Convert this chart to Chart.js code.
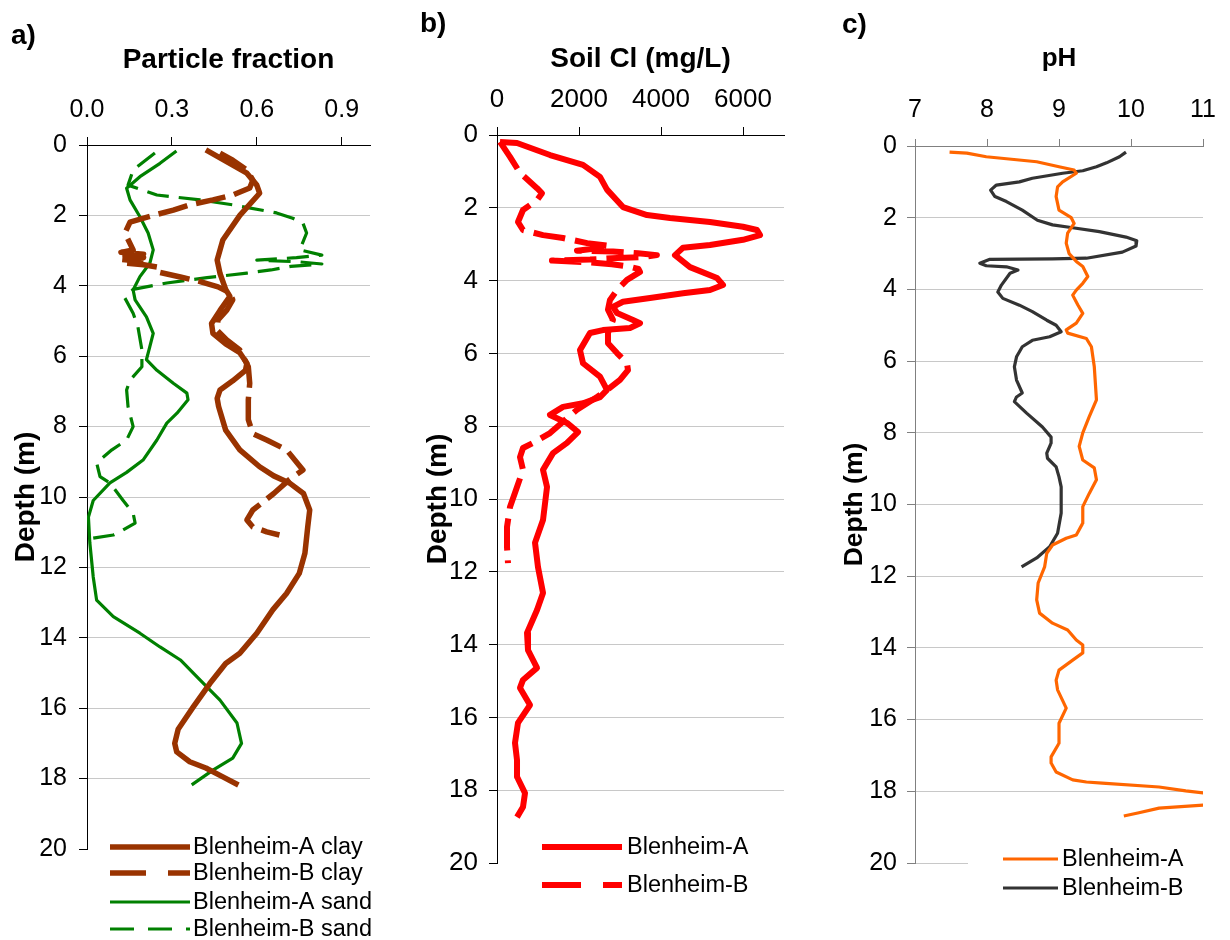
<!DOCTYPE html>
<html><head><meta charset="utf-8">
<script src="https://cdn.jsdelivr.net/npm/chart.js@4.4.1/dist/chart.umd.min.js"></script>
<style>
html,body{margin:0;padding:0;background:#fff;}
#wrap{position:relative;width:1230px;height:940px;overflow:hidden;}
.pane{position:absolute;top:0;width:410px;height:940px;}
</style></head><body>
<div id="wrap">
<div class="pane" style="left:0px"><canvas id="ca" width="410" height="940"></canvas></div>
<div class="pane" style="left:410px"><canvas id="cb" width="410" height="940"></canvas></div>
<div class="pane" style="left:820px"><canvas id="cc" width="410" height="940"></canvas></div>
</div>
<script>
// ---------- DATA ----------
const depthTicks = [0,2,4,6,8,10,12,14,16,18,20];
const fracTicks = [0, 0.3, 0.6, 0.9];
const clTicks = [0, 2000, 4000, 6000];
const phTicks = [7, 8, 9, 10, 11];

// Panel a: particle fraction
const clayA_depth = [0.14,0.8,1.14,1.37,2.0,2.7,3.27,3.65,4.1,4.3,
  4.7,5.07,5.35,5.65,5.9,6.2,6.4,6.7,6.96,7.2,
  7.43,8.1,8.66,9.14,9.4,9.6,9.9,10.37,10.85,11.6,
  12.17,12.74,13.2,13.87,14.44,14.73,15.3,15.97,16.6,17.0,
  17.24,17.52,17.7,17.95,18.18];
const clayA_frac = [0.42,0.565,0.60,0.61,0.54,0.48,0.46,0.47,0.49,0.505,
  0.47,0.44,0.445,0.49,0.54,0.565,0.56,0.515,0.47,0.46,
  0.465,0.49,0.54,0.61,0.66,0.715,0.765,0.787,0.78,0.77,
  0.75,0.705,0.657,0.60,0.54,0.49,0.434,0.375,0.322,0.31,
  0.317,0.363,0.42,0.48,0.535];

const clayB_depth = [0.23,0.43,0.71,1.0,1.22,1.42,1.56,1.7,1.85,2.0,
  2.19,2.5,2.98,3.05,3.1,3.15,3.2,3.25,3.3,3.35,
  3.4,3.47,3.6,3.75,3.88,4.03,4.2,4.4,4.69,4.97,
  5.26,5.54,5.82,6.3,6.77,7.24,7.8,8.2,8.38,8.66,
  9.23,9.5,9.9,10.37,10.65,10.85,10.99,11.08];
const clayB_frac = [0.47,0.515,0.565,0.586,0.575,0.515,0.445,0.363,0.305,0.234,
  0.152,0.134,0.163,0.12,0.2,0.12,0.2,0.12,0.19,0.13,
  0.2,0.25,0.247,0.33,0.40,0.463,0.505,0.515,0.494,0.463,
  0.459,0.494,0.54,0.57,0.575,0.57,0.57,0.586,0.635,0.705,
  0.763,0.716,0.66,0.586,0.565,0.586,0.635,0.68];

const sandA_depth = [0.17,0.52,0.9,1.23,1.56,2.04,2.5,2.98,3.36,3.74,
  4.12,4.4,4.88,5.35,5.73,6.1,6.4,6.77,7.05,7.24,
  7.62,7.9,8.38,8.95,9.3,9.6,10.1,10.57,11.3,12.27,
  12.93,13.4,13.87,14.26,14.63,15.2,15.77,16.42,17.0,17.42,
  17.76,18.18];
const sandA_frac = [0.316,0.258,0.187,0.14,0.152,0.187,0.216,0.234,0.222,0.187,
  0.163,0.17,0.21,0.234,0.222,0.21,0.247,0.305,0.353,0.357,
  0.318,0.282,0.247,0.198,0.14,0.081,0.022,0.005,0.01,0.022,
  0.034,0.093,0.187,0.258,0.33,0.40,0.47,0.53,0.546,0.515,
  0.445,0.37];

const sandB_depth = [0.23,0.71,1.14,1.42,1.56,1.7,1.93,2.08,2.22,2.5,
  2.98,3.13,3.2,3.27,3.32,3.38,3.45,3.55,3.64,3.77,
  3.92,4.1,4.35,4.78,5.17,5.82,6.3,6.68,6.96,7.43,
  8.0,8.38,8.66,9.03,9.42,9.6,10.09,10.46,10.74,10.94,
  11.08,11.17];
const sandB_frac = [0.24,0.163,0.145,0.247,0.40,0.515,0.67,0.727,0.763,0.776,
  0.752,0.83,0.74,0.6,0.75,0.83,0.72,0.65,0.565,0.424,
  0.282,0.163,0.134,0.163,0.18,0.194,0.194,0.152,0.14,0.145,
  0.163,0.14,0.088,0.034,0.046,0.081,0.127,0.163,0.17,0.127,
  0.093,0.022];

// Panel b: soil Cl (mg/L)
const clA_depth = [0.19,0.22,0.55,0.82,1.15,1.5,1.98,2.2,2.28,2.39,
  2.52,2.61,2.75,2.88,3.02,3.1,3.3,3.63,3.93,4.12,
  4.26,4.35,4.48,4.58,4.72,4.89,5.08,5.17,5.3,5.36,
  5.44,5.91,6.27,6.64,7.0,7.2,7.37,7.47,7.69,7.91,
  8.16,8.46,8.74,9.2,9.67,10.58,11.2,11.87,12.58,13.05,
  13.68,14.15,14.64,14.97,15.19,15.66,16.15,16.7,17.17,17.63,
  18.08,18.46,18.74];
const clA_val = [73,488,1293,2098,2512,2683,3073,3659,4220,5195,
  6000,6341,6415,6000,5195,4537,4341,4707,5366,5512,
  5195,4537,3732,3073,2829,2927,3317,3488,3244,2585,
  2268,2024,2098,2512,2683,2512,2098,1610,1293,1707,
  1976,1707,1366,1122,1220,1122,927,1000,1122,976,
  732,756,976,634,561,805,512,439,488,488,
  683,634,488];

const clB_depth = [0.19,0.6,1.04,1.46,1.6,1.79,2.06,2.39,2.61,2.75,
  2.83,2.97,3.05,3.12,3.18,3.2,3.25,3.3,3.36,3.38,
  3.42,3.45,3.5,3.55,3.62,3.68,3.76,3.98,4.26,4.53,
  4.8,5.08,5.44,5.72,5.99,6.27,6.46,6.73,7.01,7.2,
  7.55,8.02,8.19,8.46,8.6,8.85,9.2,9.67,10.22,10.77,
  11.32,11.76];
const clB_val = [73,317,561,976,1098,976,634,512,634,1122,
  1610,2200,2760,2400,1950,2830,3440,3900,3490,2930,
  2270,1340,2270,2800,3240,3450,3488,3170,2927,2756,
  2707,2829,2707,2707,2927,3170,3195,3000,2683,2439,
  1951,1463,1293,878,634,561,634,488,317,244,
  244,268];

// Panel c: pH
const phA_depth = [0.17,0.2,0.3,0.44,0.58,0.67,0.76,1.0,1.14,1.41,
  1.79,2.0,2.16,2.43,2.71,3.0,3.22,3.36,3.64,3.83,
  4.02,4.16,4.43,4.67,4.94,5.13,5.22,5.37,5.6,6.16,
  7.08,7.55,8.0,8.38,8.76,8.98,9.31,9.69,10.06,10.52,
  10.85,10.94,11.13,11.36,11.74,12.19,12.66,13.03,13.31,13.5,
  13.78,13.92,14.14,14.34,14.62,14.9,15.17,15.68,16.1,16.66,
  17.04,17.21,17.46,17.68,17.74,17.77,17.88,17.99,18.05,18.2,
  18.38,18.47,18.6,18.69];
const phA_val = [7.48,7.72,7.99,8.69,9.0,9.21,9.24,9.05,8.98,8.96,
  9.0,9.17,9.21,9.12,9.1,9.14,9.24,9.33,9.4,9.33,
  9.24,9.19,9.26,9.33,9.24,9.1,9.12,9.38,9.45,9.49,
  9.52,9.42,9.33,9.28,9.33,9.49,9.52,9.42,9.33,9.33,
  9.24,9.1,8.91,8.83,8.8,8.71,8.69,8.73,8.91,9.12,
  9.24,9.33,9.33,9.19,9.0,8.96,8.98,9.1,9.0,9.0,
  8.89,8.89,8.96,9.19,9.38,9.6,10.39,10.76,11.03,11.3,
  11.03,10.39,10.11,9.9];

const phB_depth = [0.17,0.3,0.47,0.58,0.69,0.76,0.9,1.0,1.09,1.23,
  1.41,1.55,1.79,2.07,2.2,2.28,2.39,2.54,2.64,2.79,
  2.96,3.13,3.15,3.16,3.27,3.34,3.37,3.46,3.55,3.88,
  4.07,4.25,4.44,4.62,4.86,5.0,5.18,5.32,5.42,5.6,
  5.88,6.16,6.53,6.89,7.0,7.13,7.45,7.84,8.12,8.29,
  8.57,8.71,8.95,9.23,9.51,10.24,10.8,11.18,11.49,11.74];
const phB_val = [9.93,9.84,9.66,9.52,9.33,9.05,8.63,8.45,8.13,8.05,
  8.11,8.27,8.49,8.7,8.91,9.19,9.56,9.93,10.08,10.07,
  9.88,9.38,8.91,8.04,7.9,7.99,8.27,8.43,8.32,8.2,
  8.15,8.22,8.45,8.63,8.83,8.96,9.03,8.87,8.63,8.49,
  8.41,8.38,8.41,8.49,8.41,8.38,8.55,8.77,8.89,8.89,
  8.83,8.84,8.96,9.0,9.03,9.03,8.98,8.87,8.69,8.48];

// ---------- RENDERING ----------
const FONT = "'Liberation Sans', Arial, Helvetica, sans-serif";
Chart.defaults.font.family = FONT;

function pts(depths, vals) {
  return depths.map((d, i) => ({x: vals[i], y: d}));
}
function ds(label, depths, vals, color, width, dash, legendDash) {
  return {label, data: pts(depths, vals), showLine: true, borderColor: color,
    backgroundColor: color, borderWidth: width, borderDash: dash || [],
    legendDash: legendDash || dash || [],
    pointRadius: 0, pointHoverRadius: 0, fill: false, tension: 0,
    borderCapStyle: 'butt', borderJoinStyle: 'round'};
}

const decoPlugin = {
  id: 'deco',
  afterDraw(chart, args, opts) {
    const ctx = chart.ctx;
    ctx.save();
    if (opts.box) {
      ctx.fillStyle = '#fff';
      ctx.fillRect(opts.box[0], opts.box[1], opts.box[2], opts.box[3]);
    }
    ctx.font = opts.legendFont;
    ctx.textBaseline = 'middle';
    ctx.textAlign = 'left';
    opts.items.forEach((it, k) => {
      const d = chart.data.datasets[it];
      const y = opts.ys[k];
      ctx.strokeStyle = d.borderColor;
      ctx.lineWidth = d.borderWidth;
      ctx.setLineDash(d.legendDash || []);
      ctx.lineDashOffset = 0;
      ctx.lineCap = 'butt';
      ctx.beginPath();
      ctx.moveTo(opts.lineX1, y);
      ctx.lineTo(opts.lineX2, y);
      ctx.stroke();
      ctx.setLineDash([]);
      ctx.fillStyle = '#000';
      ctx.fillText(d.label, opts.textX, y + 1);
    });
    ctx.font = 'bold 28px ' + FONT;
    ctx.textBaseline = 'alphabetic';
    ctx.fillStyle = '#000';
    ctx.fillText(opts.letter.text, opts.letter.x, opts.letter.y);
    ctx.restore();
  }
};

function makeChart(id, c) {
  const W = 410, H = 940;
  return new Chart(document.getElementById(id), {
    type: 'scatter',
    data: {datasets: c.datasets},
    options: {
      responsive: false, animation: false, devicePixelRatio: 1,
      events: [],
      layout: {padding: {left: 0, top: 0, right: W - c.area.right, bottom: H - c.area.bottom}},
      plugins: {legend: {display: false}, tooltip: {enabled: false}, deco: c.deco},
      scales: {
        x: {
          type: 'linear', position: 'top', min: c.xMin, max: c.xMax,
          afterBuildTicks: s => { s.ticks = c.xTicks.map(v => ({value: v})); },
          afterFit: s => { s.height = c.area.top; },
          ticks: {font: {size: c.tickSize}, color: '#000', padding: c.xTickPad, maxRotation: 0,
                  autoSkip: false, callback: c.xFmt},
          grid: {drawOnChartArea: false, drawTicks: true, tickLength: c.xTickLen,
                 tickColor: c.axisColor, lineWidth: 1},
          border: {display: true, color: c.axisColor, width: 1},
          title: {display: true, text: c.xTitle, color: '#000',
                  font: {size: c.xTitleSize, weight: 'bold'},
                  padding: {top: c.xTitlePad, bottom: 0}}
        },
        y: {
          type: 'linear', position: 'left', reverse: true, min: 0, max: 20,
          afterBuildTicks: s => { s.ticks = depthTicks.map(v => ({value: v})); },
          afterFit: s => { s.width = c.area.left; },
          ticks: {font: {size: c.tickSize}, color: '#000', padding: c.yTickPad, autoSkip: false},
          grid: {drawOnChartArea: true, drawTicks: true, tickLength: 8,
                 tickColor: c.axisColor, lineWidth: 1,
                 color: g => (c.hide20 && g.tick && g.tick.value === 20) ? 'rgba(0,0,0,0)' : '#c8c8c8'},
          border: {display: true, color: c.axisColor, width: 1},
          title: {display: true, text: 'Depth (m)', color: '#000',
                  font: {size: c.yTitleSize, weight: 'bold'},
                  padding: {top: c.yTitlePad, bottom: 0}}
        }
      }
    },
    plugins: [decoPlugin]
  });
}

const BROWN = '#993300', GREEN = '#008000', RED = '#ff0000', ORANGE = '#ff6600', DARK = '#333333';

makeChart('ca', {
  area: {left: 87, right: 370, top: 145, bottom: 849},
  xMin: 0, xMax: 1.0, xTicks: fracTicks, xFmt: v => Number(v).toFixed(1),
  tickSize: 25, xTickPad: 12, xTickLen: 8, yTickPad: 12, axisColor: '#000',
  xTitle: 'Particle fraction', xTitleSize: 28, xTitlePad: 43,
  yTitleSize: 28, yTitlePad: 9, hide20: true,
  datasets: [
    ds('Blenheim-A clay', clayA_depth, clayA_frac, BROWN, 5.5),
    ds('Blenheim-B clay', clayB_depth, clayB_frac, BROWN, 5.5, [30, 9], [36, 22]),
    ds('Blenheim-A sand', sandA_depth, sandA_frac, GREEN, 3.2),
    ds('Blenheim-B sand', sandB_depth, sandB_frac, GREEN, 3.2, [22, 10], [24, 14])
  ],
  deco: {box: null, items: [0, 1, 2, 3], ys: [847, 873, 902, 929],
         lineX1: 110, lineX2: 190, textX: 193, legendFont: '23.5px ' + FONT,
         letter: {text: 'a)', x: 11, y: 44}}
});

makeChart('cb', {
  area: {left: 87, right: 374, top: 135, bottom: 863},
  xMin: 0, xMax: 7000, xTicks: clTicks, xFmt: v => String(v),
  tickSize: 26, xTickPad: 12, xTickLen: 8, yTickPad: 11, axisColor: '#000',
  xTitle: 'Soil Cl (mg/L)', xTitleSize: 28, xTitlePad: 42,
  yTitleSize: 28, yTitlePad: 11, hide20: true,
  datasets: [
    ds('Blenheim-A', clA_depth, clA_val, RED, 6),
    ds('Blenheim-B', clB_depth, clB_val, RED, 6, [32, 10], [39, 22])
  ],
  deco: {box: null, items: [0, 1], ys: [847, 885],
         lineX1: 132, lineX2: 212, textX: 217, legendFont: '23.5px ' + FONT,
         letter: {text: 'b)', x: 10, y: 32}}
});

makeChart('cc', {
  area: {left: 95, right: 384, top: 146, bottom: 863},
  xMin: 7, xMax: 11, xTicks: phTicks, xFmt: v => String(v),
  tickSize: 25, xTickPad: 14, xTickLen: 7, yTickPad: 10, axisColor: '#808080',
  xTitle: 'pH', xTitleSize: 26, xTitlePad: 43,
  yTitleSize: 26.5, yTitlePad: 19, hide20: false,
  datasets: [
    ds('Blenheim-A', phA_depth, phA_val, ORANGE, 3.2),
    ds('Blenheim-B', phB_depth, phB_val, DARK, 3.2)
  ],
  deco: {box: [148, 846, 240, 56], items: [0, 1], ys: [859, 888],
         lineX1: 183, lineX2: 238, textX: 242, legendFont: '23.5px ' + FONT,
         letter: {text: 'c)', x: 22, y: 33}}
});
</script>
</body></html>
